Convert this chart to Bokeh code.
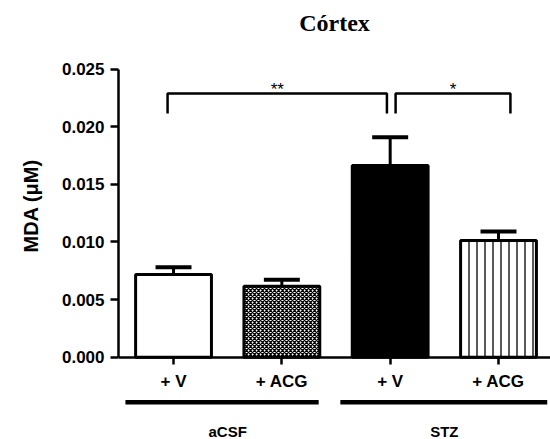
from bokeh.plotting import figure
from bokeh.models import Range1d, FixedTicker, NumeralTickFormatter, Title
from bokeh.core.properties import value
from bokeh.embed import file_html
from bokeh.resources import INLINE

# ---- data ----
title = "Córtex"
y_label = "MDA (μM)"
treatments = ["+ V", "+ ACG", "+ V", "+ ACG"]
groups = ["aCSF", "aCSF", "STZ", "STZ"]
means = [0.00718, 0.00616, 0.01664, 0.01013]
sems = [0.00063, 0.00056, 0.00246, 0.00078]
y_ticks = [0.000, 0.005, 0.010, 0.015, 0.020, 0.025]
comparisons = [(0, 2, "**"), (2, 3, "*")]

# ---- styles ----
fills = ["white", "white", "black", "white"]
hatches = [" ", "diagonal_cross", " ", "vertical_line"]
hatch_scales = [1, 4, 1, 8]
FONT = "Liberation Sans"

xs = [i + 1 for i in range(len(means))]
tops = [m + s for m, s in zip(means, sems)]

p = figure(width=550, height=439,
           x_range=Range1d(0.492, 4.48), y_range=Range1d(-0.007144, 0.027491),
           output_backend="svg", toolbar_location=None,
           min_border_left=118, min_border_right=0, min_border_top=40, min_border_bottom=0)
p.outline_line_color = None
p.xgrid.visible = False
p.ygrid.visible = False
p.background_fill_color = "white"

# title
p.title.text = title
p.title.align = "center"
p.title.text_font = "Liberation Serif"
p.title.text_font_size = "24px"
p.title.text_font_style = "bold"
p.title.text_color = "black"

# x axis at y=0
xa = p.xaxis[0]
xa.fixed_location = 0
xa.ticker = FixedTicker(ticks=xs)
xa.major_label_overrides = {x: t for x, t in zip(xs, treatments)}
xa.axis_line_width = 2.5
xa.major_tick_line_width = 2.5
xa.major_tick_out = 7
xa.major_tick_in = 0
xa.minor_tick_line_color = None
xa.major_label_text_font = FONT
xa.major_label_text_font_style = "bold"
xa.major_label_text_font_size = "17px"
xa.major_label_text_color = "black"
xa.major_label_standoff = 8

# y axis
ya = p.yaxis[0]
ya.bounds = (0, 0.025)
ya.ticker = FixedTicker(ticks=y_ticks)
ya.formatter = NumeralTickFormatter(format="0.000")
ya.axis_line_width = 2.5
ya.major_tick_line_width = 2.5
ya.major_tick_out = 8
ya.major_tick_in = 0
ya.minor_tick_line_color = None
ya.major_label_text_font = FONT
ya.major_label_text_font_style = "bold"
ya.major_label_text_font_size = "17px"
ya.major_label_text_color = "black"
ya.major_label_standoff = 6

# y axis title, placed beside the axis span (not the whole frame)
p.add_layout(Title(text=y_label, align="left", offset=187, standoff=33,
                   text_font=FONT, text_font_style="bold", text_font_size="20px",
                   text_color="black"), "left")

# error bars (upper only)
p.segment(x0=xs, y0=means, x1=xs, y1=tops, line_color="black", line_width=3)
p.segment(x0=[x - 0.166 for x in xs], y0=tops, x1=[x + 0.166 for x in xs], y1=tops,
          line_color="black", line_width=4)

# bars
p.vbar(x=xs, top=means, bottom=0, width=0.70,
       fill_color=fills, line_color="black", line_width=3,
       hatch_pattern=hatches, hatch_scale=hatch_scales, hatch_weight=1.3, hatch_color="black")

# significance brackets
left_nudge = [-0.055, 0.05]
right_nudge = [-0.03, 0.11]
br_top, br_bot = 0.02289, 0.02115
bx, by, mids, stars = [], [], [], []
for k, (i, j, s) in enumerate(comparisons):
    xl = xs[i] + left_nudge[k]
    xr = xs[j] + right_nudge[k]
    bx.append([xl, xl, xr, xr])
    by.append([br_bot, br_top, br_top, br_bot])
    mids.append((xl + xr) / 2)
    stars.append(s)
p.multi_line(xs=bx, ys=by, line_color="black", line_width=2.5)
p.text(x=mids, y=[br_top] * len(mids), text=stars, text_align="center",
       text_baseline="middle", text_font=value(FONT), text_font_size="17px",
       text_color="black", y_offset=-4)

# group lines and labels below the axis
gnames = []
for g in groups:
    if g not in gnames:
        gnames.append(g)
g_left = {"aCSF": -0.444, "STZ": -0.46}
g_right = {"aCSF": 0.34, "STZ": 0.45}
gx0, gx1, gmid = [], [], []
for g in gnames:
    idx = [xs[k] for k in range(len(groups)) if groups[k] == g]
    gx0.append(min(idx) + g_left[g])
    gx1.append(max(idx) + g_right[g])
    gmid.append((min(idx) + max(idx)) / 2)
line_y = -0.0039
p.segment(x0=gx0, y0=[line_y] * len(gnames), x1=gx1, y1=[line_y] * len(gnames),
          line_color="black", line_width=4.5, line_cap="butt")
p.text(x=gmid, y=[-0.00646] * len(gnames), text=gnames, text_align="center",
       text_baseline="middle", text_font=value(FONT), text_font_style="bold",
       text_font_size="15px", text_color="black")

open("out.html", "w").write(file_html(p, INLINE))
